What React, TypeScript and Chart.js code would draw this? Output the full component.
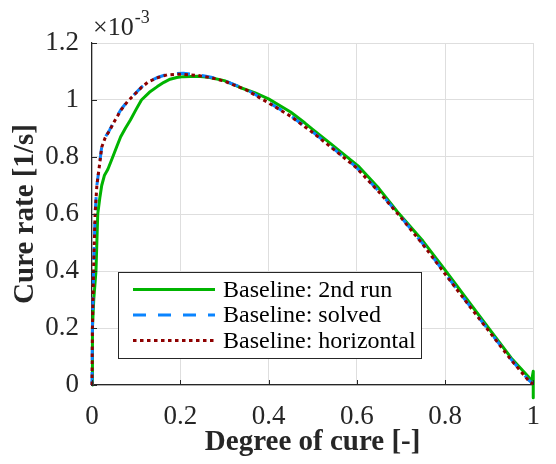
import React, { useEffect, useRef } from "react";
import { Chart, registerables } from "chart.js";

Chart.register(...registerables);

// ---- data (cure rate in units of 1e-3 1/s) ----
const xTickValues = [0, 0.2, 0.4, 0.6, 0.8, 1];
const yTickValues = [0, 0.2, 0.4, 0.6, 0.8, 1, 1.2];
const seriesLabels = ["Baseline: 2nd run", "Baseline: solved", "Baseline: horizontal"];
const xAxisTitle = "Degree of cure [-]";
const yAxisTitle = "Cure rate [1/s]";
const exponentBase = "\u00d710";
const exponentPower = "-3";

const secondRunX = [0, 0.001, 0.004, 0.009, 0.011, 0.013, 0.018, 0.022, 0.028, 0.036, 0.047, 0.056, 0.065, 0.076, 0.087, 0.1, 0.112, 0.13, 0.148, 0.163, 0.177, 0.192, 0.207, 0.24, 0.264, 0.3, 0.337, 0.37, 0.4, 0.45, 0.482, 0.5, 0.54, 0.605, 0.65, 0.692, 0.75, 0.8, 0.85, 0.902, 0.95, 0.989, 0.996, 1.0, 1.0, 1.0];
const secondRunY = [0, 0.2, 0.3, 0.4, 0.5, 0.6, 0.66, 0.7, 0.735, 0.757, 0.8, 0.836, 0.871, 0.902, 0.93, 0.967, 1.0, 1.027, 1.047, 1.062, 1.073, 1.079, 1.082, 1.083, 1.08, 1.068, 1.043, 1.025, 1.004, 0.958, 0.92, 0.897, 0.848, 0.766, 0.69, 0.608, 0.505, 0.404, 0.3, 0.193, 0.095, 0.029, 0.012, 0.048, -0.045, 0.0];

const solvedX = [0, 0.001, 0.0035, 0.007, 0.011, 0.016, 0.022, 0.03, 0.04, 0.05, 0.065, 0.08, 0.098, 0.112, 0.127, 0.15, 0.17, 0.19, 0.207, 0.24, 0.27, 0.3, 0.35, 0.4, 0.45, 0.5, 0.55, 0.598, 0.65, 0.7, 0.75, 0.8, 0.85, 0.9, 0.95, 0.989, 1.0];
const solvedY = [0, 0.2, 0.4, 0.6, 0.7, 0.76, 0.836, 0.87, 0.895, 0.925, 0.965, 0.995, 1.023, 1.045, 1.064, 1.08, 1.09, 1.093, 1.094, 1.088, 1.08, 1.068, 1.037, 0.992, 0.945, 0.888, 0.826, 0.766, 0.68, 0.59, 0.495, 0.392, 0.29, 0.19, 0.09, 0.018, 0.004];

const horizontalX = [0, 0.001, 0.0035, 0.007, 0.011, 0.016, 0.022, 0.03, 0.04, 0.05, 0.065, 0.08, 0.098, 0.112, 0.127, 0.15, 0.17, 0.19, 0.207, 0.24, 0.27, 0.3, 0.35, 0.4, 0.45, 0.5, 0.55, 0.598, 0.65, 0.7, 0.75, 0.8, 0.85, 0.9, 0.95, 0.989, 1.0];
const horizontalY = [0, 0.2, 0.4, 0.6, 0.7, 0.76, 0.834, 0.868, 0.893, 0.923, 0.963, 0.994, 1.022, 1.044, 1.063, 1.079, 1.088, 1.09, 1.09, 1.086, 1.078, 1.066, 1.035, 0.99, 0.943, 0.886, 0.824, 0.764, 0.678, 0.588, 0.493, 0.39, 0.288, 0.188, 0.088, 0.016, 0.003];

const seriesColors = ["#00b400", "#0a84ff", "#8e0000"];

const FONT = "'Liberation Serif', 'Times New Roman', serif";
const TEXT = "#262626";

const toPoints = (xs: number[], ys: number[]) => xs.map((x, i) => ({ x, y: ys[i] }));
const fmt = (v: number) => String(Math.round(v * 10) / 10);

const overlayPlugin = {
  id: "matlabOverlay",
  afterDraw(chart: any) {
    const { ctx, chartArea, scales } = chart;
    const xs = scales.x;
    const ys = scales.y;
    ctx.save();
    // inward ticks
    ctx.strokeStyle = TEXT;
    ctx.lineWidth = 1;
    ctx.beginPath();
    for (const v of yTickValues) {
      const py = Math.round(ys.getPixelForValue(v)) + 0.5;
      ctx.moveTo(chartArea.left, py);
      ctx.lineTo(chartArea.left + 5, py);
    }
    for (const v of xTickValues) {
      const px = Math.round(xs.getPixelForValue(v)) + 0.5;
      ctx.moveTo(px, chartArea.bottom);
      ctx.lineTo(px, chartArea.bottom - 5);
    }
    ctx.stroke();

    // exponent label
    ctx.fillStyle = TEXT;
    ctx.textBaseline = "alphabetic";
    ctx.textAlign = "left";
    ctx.font = `26px ${FONT}`;
    ctx.fillText(exponentBase, 93, 35);
    const w = ctx.measureText(exponentBase).width;
    ctx.font = `18px ${FONT}`;
    ctx.fillText(exponentPower, 93 + w + 1, 23);

    // legend
    const bx = 118.5, by = 272.5, bw = 303, bh = 86;
    ctx.fillStyle = "#ffffff";
    ctx.fillRect(bx, by, bw, bh);
    ctx.strokeStyle = "#262626";
    ctx.lineWidth = 1;
    ctx.strokeRect(bx, by, bw, bh);
    const rows = [289.5, 315, 340.5];
    const dashes = [[], [13, 12], [3.5, 3.5]];
    ctx.font = `24px ${FONT}`;
    ctx.textBaseline = "middle";
    for (let i = 0; i < 3; i++) {
      ctx.strokeStyle = seriesColors[i];
      ctx.lineWidth = 3;
      ctx.setLineDash(dashes[i]);
      ctx.beginPath();
      ctx.moveTo(133, rows[i]);
      ctx.lineTo(215, rows[i]);
      ctx.stroke();
      ctx.setLineDash([]);
      ctx.fillStyle = "#000000";
      ctx.fillText(seriesLabels[i], 223, rows[i] + 1);
    }
    ctx.restore();
  },
};

export default function App() {
  const ref = useRef<HTMLCanvasElement | null>(null);
  useEffect(() => {
    if (!ref.current) return;
    const chart = new Chart(ref.current, {
      type: "line",
      data: {
        datasets: [
          {
            label: seriesLabels[0],
            data: toPoints(secondRunX, secondRunY),
            borderColor: seriesColors[0],
            borderWidth: 3,
            order: 2,
            clip: false,
          },
          {
            label: seriesLabels[1],
            data: toPoints(solvedX, solvedY),
            borderColor: seriesColors[1],
            borderWidth: 3,
            borderDash: [13, 12],
            order: 1,
            clip: false,
          },
          {
            label: seriesLabels[2],
            data: toPoints(horizontalX, horizontalY),
            borderColor: seriesColors[2],
            borderWidth: 3,
            borderDash: [3.5, 3.5],
            order: 0,
            clip: false,
          },
        ] as any,
      },
      options: {
        animation: false,
        responsive: false,
        maintainAspectRatio: false,
        layout: { padding: { left: 0, right: 4, top: 43, bottom: 0 }, autoPadding: false } as any,
        elements: { point: { radius: 0 }, line: { tension: 0, fill: false, borderJoinStyle: "round" } },
        plugins: { legend: { display: false }, tooltip: { enabled: false } },
        scales: {
          x: {
            type: "linear",
            min: 0,
            max: 1,
            afterBuildTicks: (s: any) => {
              s.ticks = xTickValues.map((v) => ({ value: v }));
            },
            afterFit: (s: any) => {
              s.height = 79;
            },
            ticks: {
              font: { family: FONT, size: 27 },
              color: TEXT,
              padding: 16,
              maxRotation: 0,
              autoSkip: false,
              callback: (v: any) => fmt(Number(v)),
            },
            grid: { color: "#dedede", lineWidth: 1, drawTicks: false },
            border: { display: true, color: TEXT, width: 1.2 },
            title: {
              display: true,
              text: xAxisTitle,
              font: { family: FONT, size: 29, weight: "bold" },
              color: TEXT,
              padding: { top: 0, bottom: 4 },
            },
          },
          y: {
            type: "linear",
            min: 0,
            max: 1.2,
            afterBuildTicks: (s: any) => {
              s.ticks = yTickValues.map((v) => ({ value: v }));
            },
            afterFit: (s: any) => {
              s.width = 92;
            },
            ticks: {
              font: { family: FONT, size: 27 },
              color: TEXT,
              padding: 13,
              autoSkip: false,
              callback: (v: any) => fmt(Number(v)),
            },
            grid: { color: "#dedede", lineWidth: 1, drawTicks: false },
            border: { display: true, color: TEXT, width: 1.2 },
            title: {
              display: true,
              text: yAxisTitle,
              font: { family: FONT, size: 29, weight: "bold" },
              color: TEXT,
              padding: { top: 8, bottom: 0 },
            },
          },
        },
      } as any,
      plugins: [overlayPlugin],
    });
    return () => chart.destroy();
  }, []);
  return (
    <div style={{ position: "fixed", left: 0, top: 0, width: 556, height: 464, background: "#fff" }}>
      <canvas ref={ref} width={556} height={464} style={{ width: 556, height: 464, display: "block" }} />
    </div>
  );
}
